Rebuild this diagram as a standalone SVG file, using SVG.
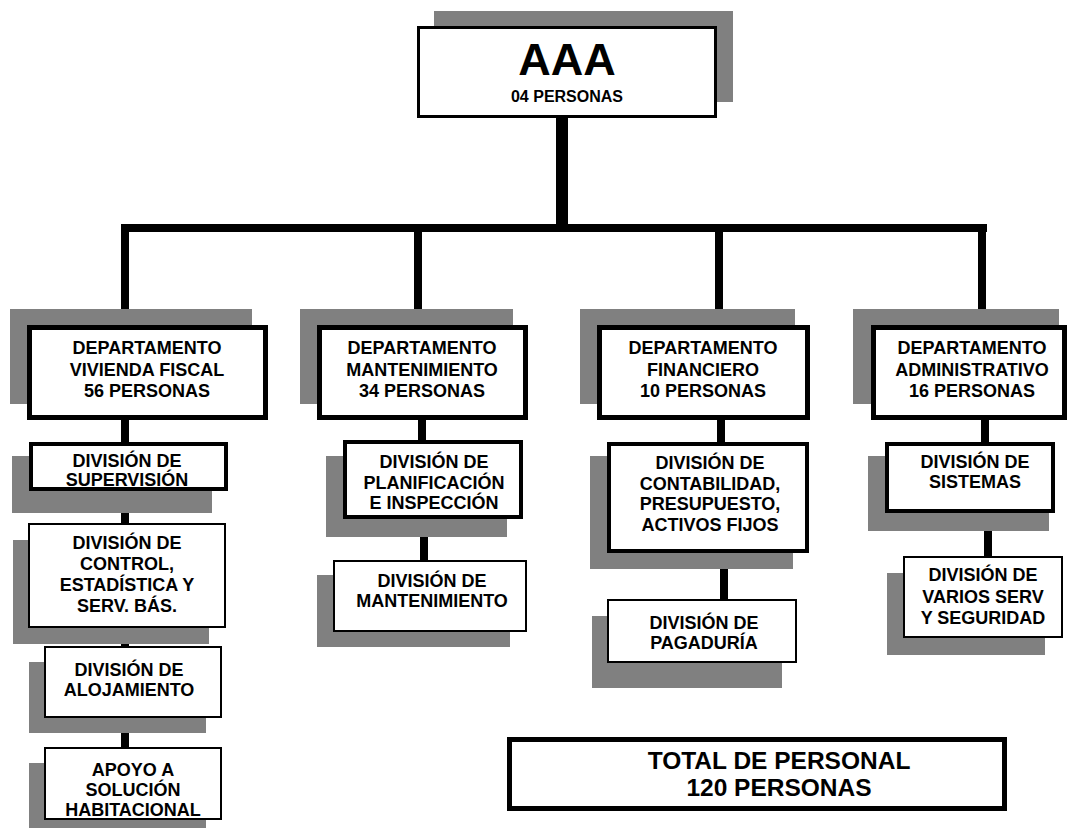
<svg xmlns="http://www.w3.org/2000/svg" width="1071" height="830" viewBox="0 0 1071 830">
<style>
.sh{fill:#808080;stroke:none}
.bx{fill:#fff;stroke:#000}
.b5{stroke-width:5}
.b4{stroke-width:4}
.b2{stroke-width:2}
.b3{stroke-width:3}
.cn{fill:#000;stroke:none}
text{font-family:"Liberation Sans",Arial,sans-serif;font-weight:bold;fill:#000;text-anchor:middle}
.t18{font-size:18px}
</style>
<rect width="1071" height="830" fill="#fff"/>
<g id="connectors">
<rect class="cn" x="556" y="116" width="12" height="112"/>
<rect class="cn" x="121" y="224" width="866" height="8"/>
<rect class="cn" x="121" y="227" width="8" height="99"/>
<rect class="cn" x="414" y="228" width="8" height="98"/>
<rect class="cn" x="715" y="228" width="8" height="98"/>
<rect class="cn" x="978" y="228" width="8" height="98"/>
<rect class="cn" x="121" y="418" width="8" height="330"/>
<rect class="cn" x="418" y="418" width="8" height="23"/>
<rect class="cn" x="420" y="517" width="8" height="44"/>
<rect class="cn" x="717" y="418" width="8" height="25"/>
<rect class="cn" x="720" y="551" width="8" height="49"/>
<rect class="cn" x="981" y="418" width="8" height="25"/>
<rect class="cn" x="984" y="511" width="8" height="46"/>
</g>
<g id="aaa">
<rect class="sh" x="434" y="11" width="299" height="91"/>
<rect class="bx b3" x="418.5" y="27.5" width="297" height="89"/>
<text x="567" y="75" style="font-size:45px">AAA</text>
<text x="567" y="102" style="font-size:16px">04 PERSONAS</text>
</g>
<g id="dep-vivienda">
<rect class="sh" x="10" y="309" width="242" height="95"/>
<rect class="bx b5" x="29.5" y="327.5" width="236" height="90"/>
<text class="t18" x="147" y="354">DEPARTAMENTO</text>
<text class="t18" x="147" y="376">VIVIENDA FISCAL</text>
<text class="t18" x="147" y="397">56 PERSONAS</text>
</g>
<g id="dep-mantenimiento">
<rect class="sh" x="300" y="309" width="213" height="95"/>
<rect class="bx b5" x="319.5" y="327.5" width="206" height="90"/>
<text class="t18" x="422" y="354">DEPARTAMENTO</text>
<text class="t18" x="422" y="376">MANTENIMIENTO</text>
<text class="t18" x="422" y="397">34 PERSONAS</text>
</g>
<g id="dep-financiero">
<rect class="sh" x="580" y="309" width="215" height="95"/>
<rect class="bx b5" x="599.5" y="327.5" width="208" height="90"/>
<text class="t18" x="703" y="354">DEPARTAMENTO</text>
<text class="t18" x="703" y="376">FINANCIERO</text>
<text class="t18" x="703" y="397">10 PERSONAS</text>
</g>
<g id="dep-administrativo">
<rect class="sh" x="853" y="309" width="206" height="95"/>
<rect class="bx b5" x="873.5" y="327.5" width="191" height="90"/>
<text class="t18" x="972" y="354">DEPARTAMENTO</text>
<text class="t18" x="972" y="376">ADMINISTRATIVO</text>
<text class="t18" x="972" y="397">16 PERSONAS</text>
</g>
<g id="div-supervision">
<rect class="sh" x="12" y="456" width="200" height="57"/>
<rect class="bx b4" x="31" y="444" width="195" height="45"/>
<text class="t18" x="127" y="467">DIVISIÓN DE</text>
<text class="t18" x="127" y="486">SUPERVISIÓN</text>
</g>
<g id="div-control">
<rect class="sh" x="13" y="540" width="196" height="104"/>
<rect class="bx b2" x="29" y="524" width="196" height="103"/>
<text class="t18" x="127" y="549">DIVISIÓN DE</text>
<text class="t18" x="127" y="570">CONTROL,</text>
<text class="t18" x="127" y="591">ESTADÍSTICA Y</text>
<text class="t18" x="127" y="612">SERV. BÁS.</text>
</g>
<g id="div-alojamiento">
<rect class="sh" x="29" y="662" width="177" height="71"/>
<rect class="bx b2" x="45" y="647" width="176" height="70"/>
<text class="t18" x="129" y="676">DIVISIÓN DE</text>
<text class="t18" x="129" y="696">ALOJAMIENTO</text>
</g>
<g id="apoyo">
<rect class="sh" x="29" y="763" width="177" height="65"/>
<rect class="bx b2" x="45" y="748" width="176" height="71"/>
<text class="t18" x="133" y="776">APOYO A</text>
<text class="t18" x="133" y="796">SOLUCIÓN</text>
<text class="t18" x="133" y="816">HABITACIONAL</text>
</g>
<g id="div-planificacion">
<rect class="sh" x="326" y="456" width="181" height="81"/>
<rect class="bx b4" x="345" y="442" width="176" height="75"/>
<text class="t18" x="434" y="468">DIVISIÓN DE</text>
<text class="t18" x="434" y="489">PLANIFICACIÓN</text>
<text class="t18" x="434" y="509">E INSPECCIÓN</text>
</g>
<g id="div-mantenimiento">
<rect class="sh" x="317" y="575" width="193" height="72"/>
<rect class="bx b2" x="334" y="561" width="192" height="70"/>
<text class="t18" x="432" y="587">DIVISIÓN DE</text>
<text class="t18" x="432" y="607">MANTENIMIENTO</text>
</g>
<g id="div-contabilidad">
<rect class="sh" x="590" y="456" width="203" height="113"/>
<rect class="bx b4" x="609" y="444" width="198" height="107"/>
<text class="t18" x="710" y="469">DIVISIÓN DE</text>
<text class="t18" x="710" y="490">CONTABILIDAD,</text>
<text class="t18" x="710" y="510">PRESUPUESTO,</text>
<text class="t18" x="710" y="531">ACTIVOS FIJOS</text>
</g>
<g id="div-pagaduria">
<rect class="sh" x="592" y="616" width="190" height="72"/>
<rect class="bx b2" x="608" y="600" width="188" height="62"/>
<text class="t18" x="704" y="629">DIVISIÓN DE</text>
<text class="t18" x="704" y="649">PAGADURÍA</text>
</g>
<g id="div-sistemas">
<rect class="sh" x="868" y="456" width="181" height="75"/>
<rect class="bx b4" x="887" y="444" width="166" height="67"/>
<text class="t18" x="975" y="468">DIVISIÓN DE</text>
<text class="t18" x="975" y="488">SISTEMAS</text>
</g>
<g id="div-varios">
<rect class="sh" x="887" y="573" width="158" height="82"/>
<rect class="bx b2" x="904" y="557" width="158" height="80"/>
<text class="t18" x="983" y="581">DIVISIÓN DE</text>
<text class="t18" x="983" y="603">VARIOS SERV</text>
<text class="t18" x="983" y="624">Y SEGURIDAD</text>
</g>
<g id="total">
<rect class="bx b5" x="509.5" y="739.5" width="495" height="69"/>
<text x="779" y="769" style="font-size:24.5px">TOTAL DE PERSONAL</text>
<text x="779" y="796" style="font-size:24.5px">120 PERSONAS</text>
</g>
</svg>
